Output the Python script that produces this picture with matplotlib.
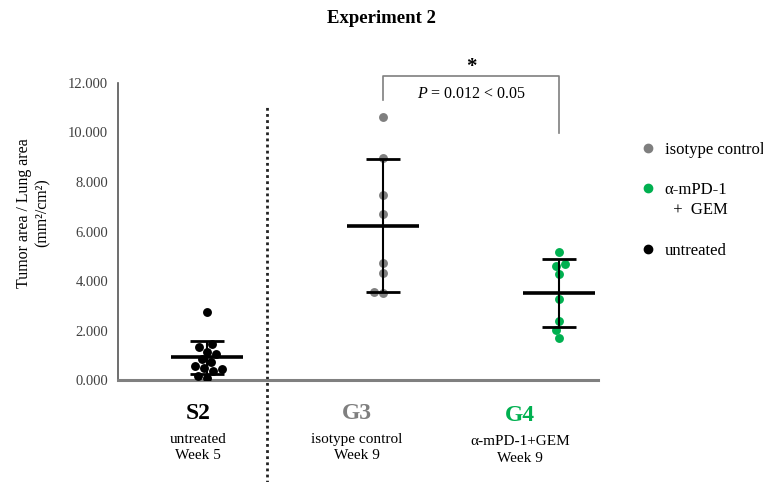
import matplotlib
matplotlib.use("Agg")
import matplotlib.pyplot as plt
from matplotlib.lines import Line2D
from matplotlib.legend_handler import HandlerLine2D
import seaborn as sns
import numpy as np

plt.rcParams['font.family'] = ['Liberation Serif', 'DejaVu Serif']
plt.rcParams['mathtext.fontset'] = 'custom'
plt.rcParams['mathtext.rm'] = 'Liberation Serif'
plt.rcParams['mathtext.it'] = 'Liberation Serif:italic'

# ---- data ----
groups = ["S2", "G3", "G4"]
group_sub = ["untreated\nWeek 5", "isotype control\nWeek 9", "α-mPD-1+GEM\nWeek 9"]
group_colors = ["#000000", "#7f7f7f", "#00b050"]
s2_values = [2.75, 1.45, 1.35, 1.15, 1.05, 0.85, 0.75, 0.6, 0.5, 0.45, 0.4, 0.2, 0.12]
g3_values = [10.6, 8.95, 7.45, 6.72, 4.72, 4.32, 3.52, 3.58]
g4_values = [5.17, 4.70, 4.63, 4.29, 3.27, 2.41, 2.04, 1.70]
group_means = [0.93, 6.24, 3.54]
group_sds = [0.66, 2.66, 1.37]
yticks = [0, 2, 4, 6, 8, 10, 12]
legend_labels = ["isotype control", "α-mPD-1\n  +  GEM", "untreated"]
p_text = "$P$ = 0.012 < 0.05"

fig = plt.figure(figsize=(7.63, 4.82), dpi=100)
ax = fig.add_axes([0.1547, 0.2106, 0.629, 0.6182])

positions = [1, 2, 3]
for pos, vals, col in zip(positions, [s2_values, g3_values, g4_values], group_colors):
    sns.swarmplot(x=[pos] * len(vals), y=vals, color=col, size=6.4, ax=ax,
                  native_scale=True, zorder=3, linewidth=0)

# mean +- SD
ax.errorbar(positions, group_means, yerr=group_sds, fmt='none', ecolor='black',
            elinewidth=1.5, capsize=12.5, capthick=2, zorder=4)
ax.hlines(group_means, [p - 0.205 for p in positions], [p + 0.205 for p in positions],
          color='black', lw=2.6, zorder=4)

ax.set_xlim(0.494, 3.22)
ax.set_ylim(0, 12)
ax.set_yticks(yticks)
ax.set_yticklabels([f"{v:.3f}" for v in yticks], fontsize=10.5, color='#404040')
ax.set_xticks([])
for s in ['top', 'right']:
    ax.spines[s].set_visible(False)
ax.spines['left'].set_color('#555555')
ax.spines['left'].set_linewidth(1.2)
ax.spines['bottom'].set_color('#808080')
ax.spines['bottom'].set_linewidth(2.2)
ax.tick_params(axis='y', length=0, pad=7)
ax.set_ylabel("Tumor area / Lung area\n(mm²/cm²)", fontsize=11.4, labelpad=16,
              linespacing=1.2)
ax.yaxis.set_label_coords(-0.14, 0.562)
ax.set_xlabel("")

# dotted separator
ax.plot([1.34, 1.34], [-4.2, 11.05], ls=(0, (1, 1.2)), color='#222222', lw=2,
        clip_on=False, zorder=2)

# significance bracket
ax.plot([2, 2, 3, 3], [11.3, 12.27, 12.27, 9.95], color='#7f7f7f', lw=1.2,
        clip_on=False)
ax.text(2.5, 12.62, "*", ha='center', va='center', fontsize=15, fontweight='bold')
ax.text(2.5, 11.55, p_text, ha='center', va='center', fontsize=11.5)

# title
fig.text(0.5, 0.962, "Experiment 2", ha='center', va='center', fontsize=13.5,
         fontweight='bold')

# group labels
label_x = [0.2595, 0.468, 0.6815]
label_dy = [0.0, 0.0, -0.006]
for lx, dy, g, sub, col in zip(label_x, label_dy, groups, group_sub, group_colors):
    fig.text(lx, 0.143 + dy, g, ha='center', va='center', fontsize=17,
             fontweight='bold', color=col)
    fig.text(lx, 0.072 + dy, sub, ha='center', va='center', fontsize=11,
             linespacing=1.35)


# legend: marker aligned with the first line of a two-line label
class FirstLineHandler(HandlerLine2D):
    def __init__(self, shift, **kw):
        super().__init__(**kw)
        self.shift = shift

    def create_artists(self, legend, orig_handle, xdescent, ydescent, width,
                       height, fontsize, trans):
        arts = super().create_artists(legend, orig_handle, xdescent, ydescent,
                                      width, height, fontsize, trans)
        for a in arts:
            a.set_ydata(np.asarray(a.get_ydata()) + self.shift * fontsize)
        return arts


handles = [Line2D([], [], ls='none', marker='o', color=c, markersize=6)
           for c in ["#7f7f7f", "#00b050", "#000000"]]
leg = fig.legend(handles, legend_labels, loc='upper left',
                 bbox_to_anchor=(0.823, 0.737), frameon=False, fontsize=12,
                 handlelength=0.6, handletextpad=0.7, labelspacing=1.45,
                 handler_map={handles[1]: FirstLineHandler(0.75)})
for t in leg.get_texts():
    t.set_linespacing(1.38)

fig.savefig("out.png", dpi=100)
